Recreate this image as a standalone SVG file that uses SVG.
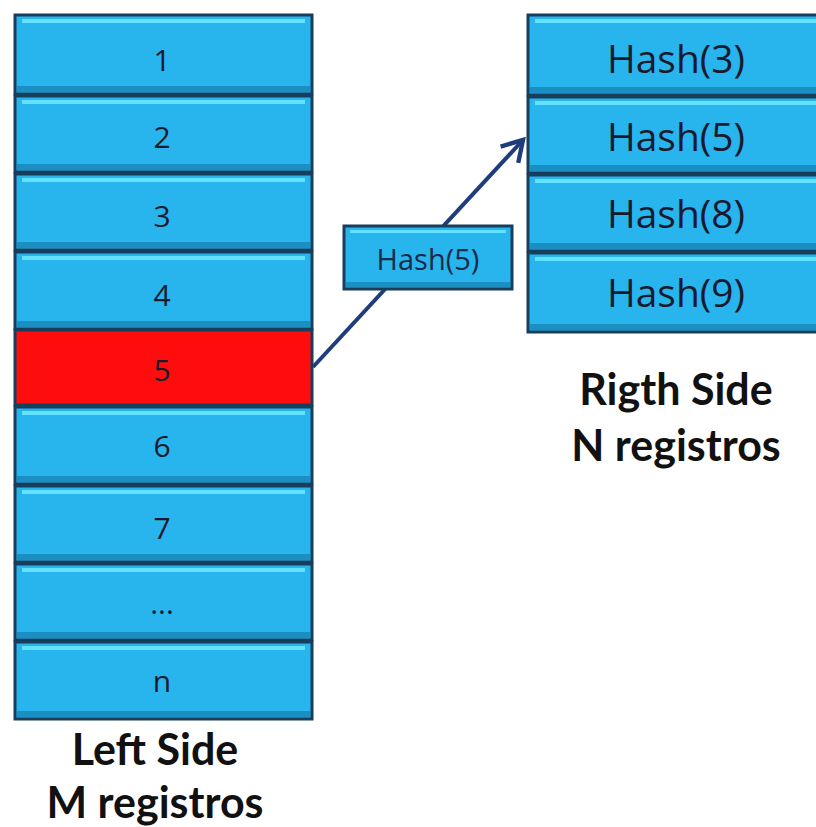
<svg xmlns="http://www.w3.org/2000/svg" width="816" height="827" viewBox="0 0 816 827">
<defs>
<style>
.cell{fill:#28b4ec;stroke:#173f5c;stroke-width:3}
.red{fill:#ff0d0d;stroke:#173f5c;stroke-width:3}
.hl{fill:#62e2ff}
.sh{fill:#1c8fc2}
.num{font-family:"Open Sans","DejaVu Sans",sans-serif;font-size:30px;fill:#1a1a2e;text-anchor:middle}
.hash{font-family:"Open Sans","DejaVu Sans",sans-serif;font-size:39px;fill:#1a1a2e;text-anchor:middle}
.small{font-family:"Open Sans","DejaVu Sans",sans-serif;font-size:29px;fill:#1a2a4a;text-anchor:middle}
.lbl{font-family:Lato,"Open Sans",sans-serif;font-weight:bold;font-size:43px;fill:#111;text-anchor:middle}
.conn{stroke:#1f3d7a;stroke-width:4;fill:none}
</style>
<marker id="ah" markerWidth="8" markerHeight="8" refX="6" refY="4" orient="auto" markerUnits="strokeWidth">
<polyline points="1,1 6,4 1,7" fill="none" stroke="#1f3d7a" stroke-width="1.1"/>
</marker>
</defs>
<rect width="816" height="827" fill="#ffffff"/>
<g id="connectors">
<line class="conn" x1="313" y1="367" x2="523" y2="140" marker-end="url(#ah)"/>
</g>
<g id="left-1"><rect class="cell" x="15" y="15" width="297" height="79"/><rect class="hl" x="22" y="19" width="283" height="4"/><rect class="sh" x="17" y="86" width="293" height="6"/><text class="num" x="162" y="71">1</text></g>
<g id="left-2"><rect class="cell" x="15" y="96" width="297" height="76"/><rect class="hl" x="22" y="100" width="283" height="4"/><rect class="sh" x="17" y="164" width="293" height="6"/><text class="num" x="162" y="148">2</text></g>
<g id="left-3"><rect class="cell" x="15" y="174" width="297" height="76"/><rect class="hl" x="22" y="178" width="283" height="4"/><rect class="sh" x="17" y="242" width="293" height="6"/><text class="num" x="162" y="227">3</text></g>
<g id="left-4"><rect class="cell" x="15" y="252" width="297" height="77"/><rect class="hl" x="22" y="256" width="283" height="4"/><rect class="sh" x="17" y="321" width="293" height="6"/><text class="num" x="162" y="306">4</text></g>
<g id="left-5"><rect class="red" x="15" y="330" width="297" height="75"/><text class="num" x="162" y="381">5</text></g>
<g id="left-6"><rect class="cell" x="15" y="407" width="297" height="77"/><rect class="hl" x="22" y="411" width="283" height="4"/><rect class="sh" x="17" y="476" width="293" height="6"/><text class="num" x="162" y="457">6</text></g>
<g id="left-7"><rect class="cell" x="15" y="486" width="297" height="76"/><rect class="hl" x="22" y="490" width="283" height="4"/><rect class="sh" x="17" y="554" width="293" height="6"/><text class="num" x="162" y="539">7</text></g>
<g id="left-dots"><rect class="cell" x="15" y="564" width="297" height="76"/><rect class="hl" x="22" y="568" width="283" height="4"/><rect class="sh" x="17" y="632" width="293" height="6"/><text class="num" x="162" y="614">...</text></g>
<g id="left-n"><rect class="cell" x="15" y="642" width="297" height="77"/><rect class="hl" x="22" y="646" width="283" height="4"/><rect class="sh" x="17" y="711" width="293" height="6"/><text class="num" x="162" y="692">n</text></g>
<g id="right-3"><rect class="cell" x="528" y="15" width="300" height="80"/><rect class="hl" x="535" y="19" width="290" height="4"/><rect class="sh" x="530" y="87" width="295" height="6"/><text class="hash" x="676" y="73">Hash(3)</text></g>
<g id="right-5"><rect class="cell" x="528" y="97" width="300" height="76"/><rect class="hl" x="535" y="101" width="290" height="4"/><rect class="sh" x="530" y="165" width="295" height="6"/><text class="hash" x="676" y="151">Hash(5)</text></g>
<g id="right-8"><rect class="cell" x="528" y="175" width="300" height="76"/><rect class="hl" x="535" y="179" width="290" height="4"/><rect class="sh" x="530" y="243" width="295" height="6"/><text class="hash" x="676" y="228">Hash(8)</text></g>
<g id="right-9"><rect class="cell" x="528" y="253" width="300" height="79"/><rect class="hl" x="535" y="257" width="290" height="4"/><rect class="sh" x="530" y="324" width="295" height="6"/><text class="hash" x="676" y="307">Hash(9)</text></g>
<g id="hash5-box"><rect class="cell" x="344" y="226" width="168" height="63" stroke-width="2.5"/><rect class="hl" x="350" y="230" width="156" height="3"/><rect class="sh" x="346" y="282" width="164" height="5"/><text class="small" x="428" y="270">Hash(5)</text></g>
<g id="label-left"><text class="lbl" x="155" y="765">Left Side</text><text class="lbl" x="155" y="818">M registros</text></g>
<g id="label-right"><text class="lbl" x="676" y="405">Rigth Side</text><text class="lbl" x="676" y="461">N registros</text></g>
</svg>
